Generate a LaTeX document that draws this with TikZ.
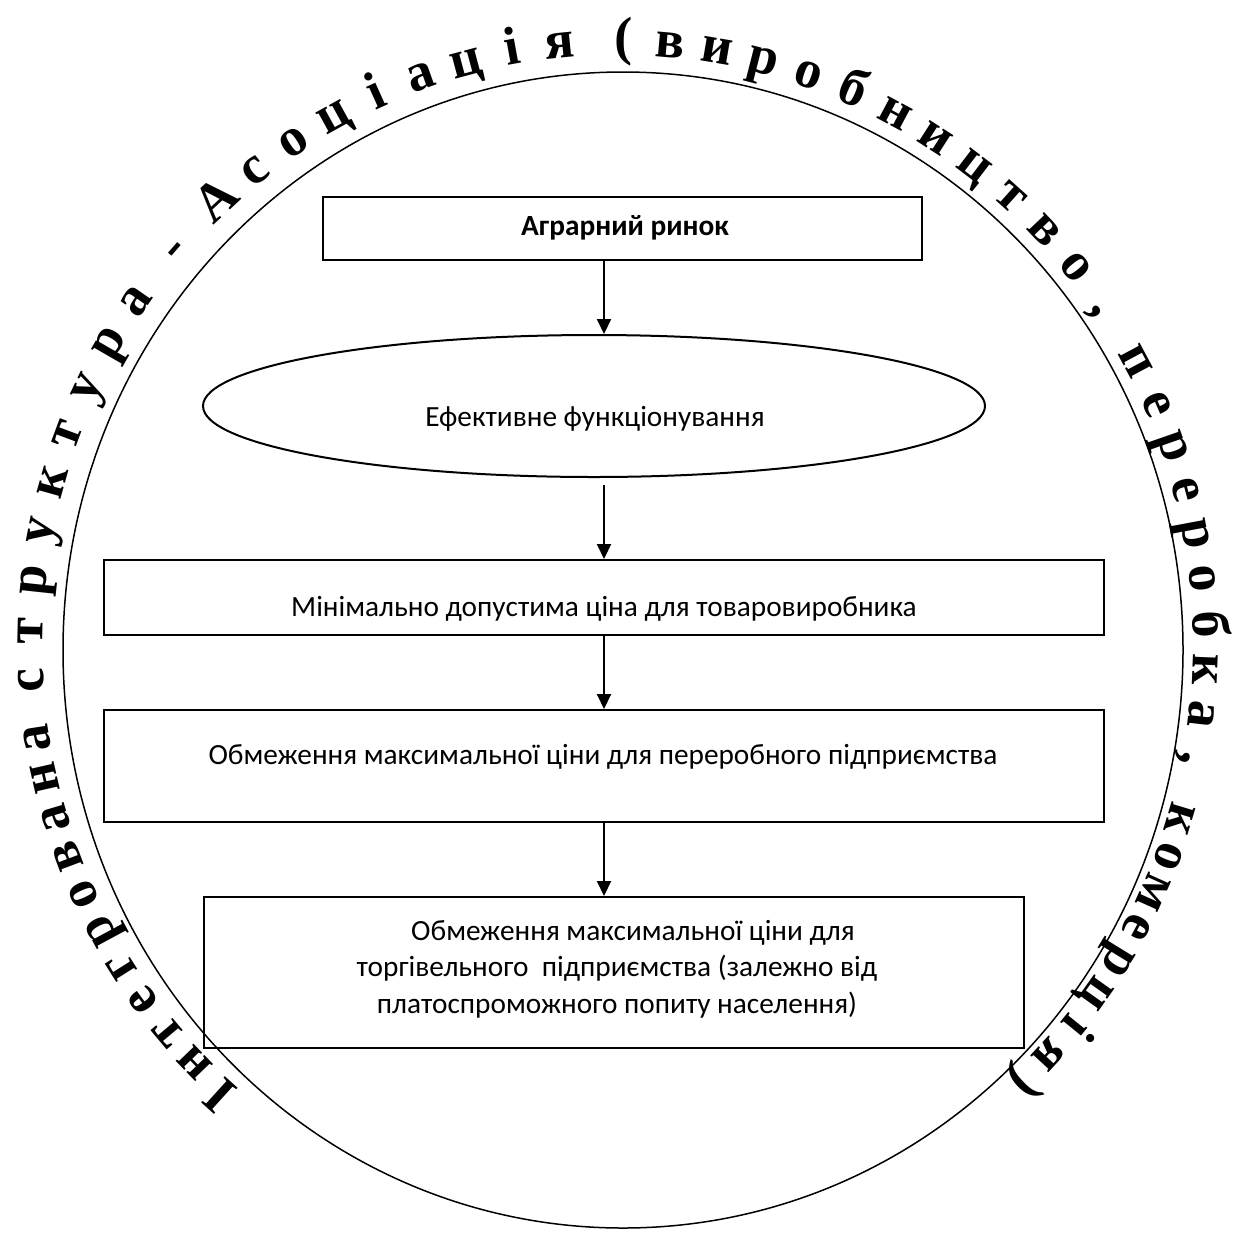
\documentclass[tikz,border=0pt]{standalone}
\usepackage{fontspec}
\setmainfont{Carlito}
\newfontfamily\arcfam{Liberation Serif}
\usetikzlibrary{shapes.geometric,arrows.meta,calc}
\newdimen\chwd
\newcount\arcidx
\def\spmark{S}
\def\lp{(}
\def\rp{)}
\def\cm{,}
\def\arcfnt{\arcfam\bfseries\fontsize{27pt}{27pt}\selectfont}
\def\rxpt{287.5}
\def\rypt{295}
\def\rpt{291}
\def\spadv{8}
% #1 list of characters (S = space), #2 centre angle of first char,
% #3 centre angle of the char that follows, #4 that char
\newcommand\arcseg[4]{%
  \xdef\totw{0}\xdef\nch{0}\xdef\nsp{0}%
  \foreach \arcc [count=\kk] in {#1} {%
    \ifx\arcc\spmark
      \pgfmathtruncatemacro\tmpn{\nsp+1}\xdef\nsp{\tmpn}%
    \else
      \settowidth\chwd{\arcfnt\arcc}%
      \ifnum\kk=1 \xdef\wA{\the\chwd}\fi
      \pgfmathsetmacro\tmpw{\totw+\chwd}\xdef\totw{\tmpw}%
      \pgfmathtruncatemacro\tmpn{\nch+1}\xdef\nch{\tmpn}%
    \fi
  }%
  \settowidth\chwd{\arcfnt #4}%
  \pgfmathsetmacro\track{(\rpt*pi/180*(#2-(#3))-\totw+\wA/2-\chwd/2-\nsp*\spadv)/\nch}%
  \pgfmathsetmacro\tmpc{#2+(\wA/2)/\rpt*180/pi}\xdef\cur{\tmpc}%
  \foreach \arcc in {#1} {%
    \ifx\arcc\spmark
      \pgfmathsetmacro\nxt{\cur-\spadv/\rpt*180/pi}\xdef\cur{\nxt}%
    \else
      \settowidth\chwd{\arcfnt\arcc}%
      \pgfmathsetmacro\midang{\cur-(\chwd/2)/\rpt*180/pi}%
      \global\advance\arcidx by 1
      \node[arcch, rotate=\midang-90] (arc\the\arcidx) at ([shift={(\midang:\rxpt pt and \rypt pt)}]C) {\arcc};
      \pgfmathsetmacro\nxt{\cur-(\chwd+\track)/\rpt*180/pi}\xdef\cur{\nxt}%
    \fi
  }%
}
\begin{document}
\begin{tikzpicture}[x=0.5pt,y=-0.5pt,
  box/.style={draw, line width=1pt, rectangle, inner sep=0pt},
  txt/.style={font=\fontsize{14.65pt}{18.25pt}\selectfont, inner sep=0pt, align=center},
  arr/.style={line width=1pt, -{Triangle[length=7.5pt,width=7pt]}},
  arcch/.style={font=\arcfnt, inner sep=0pt, anchor=base}
]
\useasboundingbox (0,0) rectangle (1257,1232);
\fill[white] (0,0) rectangle (1257,1232);

\node[draw, ellipse, line width=0.75pt, minimum width=560pt, minimum height=578pt, inner sep=0pt] (outer) at (623,650) {};

\node[box, minimum width=299.5pt, minimum height=31.5pt] (b1) at (622.5,228.5) {};
\node[txt, font=\bfseries\fontsize{14.65pt}{18pt}\selectfont] (t1) at (625,228) {Аграрний ринок};

\node[draw, ellipse, line width=1pt, minimum width=391pt, minimum height=71pt, inner sep=0pt] (ell) at (594,406) {};
\node[txt] (t2) at (595,419) {Ефективне функціонування};

\node[box, minimum width=500pt, minimum height=37.5pt] (b3) at (604,597.5) {};
\node[txt] (t3) at (604,609) {Мінімально допустима ціна для товаровиробника};

\node[box, minimum width=500pt, minimum height=56pt] (b4) at (604,766) {};
\node[txt] (t4) at (603,757) {Обмеження максимальної ціни для переробного підприємства};

\node[box, minimum width=410pt, minimum height=75.5pt] (b5) at (614,972.5) {};
\node[txt] (t5) at (617,969) {\hspace*{16pt}Обмеження максимальної ціни для\\торгівельного\ \ підприємства (залежно від\\платоспроможного попиту населення)};

\coordinate (e2) at ([yshift=-3.5pt]ell.south);
\draw[arr] (b1.south -| b3.north) -- (ell.north -| b3.north);
\draw[arr] (e2 -| b3.north) -- (b3.north);
\draw[arr] (b3.south) -- (b4.north);
\draw[arr] (b4.south) -- (b4.south |- b5.north);

% text along the circle
\coordinate (C) at (618,645);
\arcseg{І,н,т,е,г,р,о,в,а,н,а,S}{227.8}{183.4}{с}
\arcseg{с,т,р,у,к,т,у,р}{183.4}{145.2}{а}
\arcseg{а,S,-,S,А,с,о,ц,і,а,ц,і,я,S}{145.2}{89.5}{\lp}
\arcseg{\lp,в,и,р,о,б,н,и,ц,т,в,о,\cm,S,п}{89.5}{23.5}{е}
\arcseg{е,р,е,р,о,б,к,а,\cm,S}{23.5}{-16.8}{к}
\arcseg{к,о,м,е,р,ц,і,я}{-16.8}{-46.5}{\rp}
\node[arcch, rotate=-136.5] (arcend) at ([shift={(-46.5:\rxpt pt and \rypt pt)}]C) {\rp};
\end{tikzpicture}
\end{document}
